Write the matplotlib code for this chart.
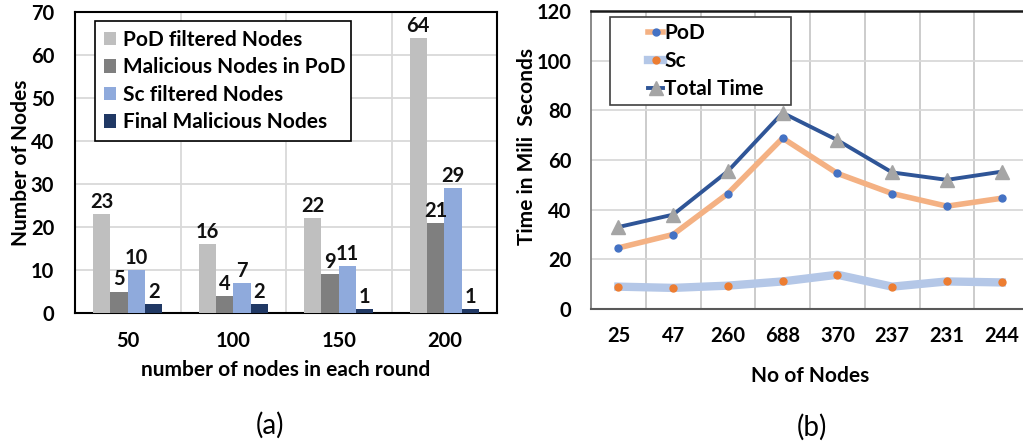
import matplotlib
matplotlib.use("Agg")
import matplotlib.pyplot as plt
from matplotlib.legend_handler import HandlerLine2D
import numpy as np

plt.rcParams['font.family'] = ['Lato', 'DejaVu Sans']

# ---- data (a) ----
rounds = ['50', '100', '150', '200']
pod_filtered = [23, 16, 22, 64]
malicious_pod = [5, 4, 9, 21]
sc_filtered = [10, 7, 11, 29]
final_malicious = [2, 2, 1, 1]
bar_labels = ['PoD filtered Nodes', 'Malicious Nodes in PoD', 'Sc filtered Nodes', 'Final Malicious Nodes']

# ---- data (b) ----
nodes = ['25', '47', '260', '688', '370', '237', '231', '244']
pod_time = [24.6, 30.0, 46.5, 68.8, 54.6, 46.5, 41.4, 44.6]
sc_time = [9.0, 8.5, 9.4, 11.1, 13.8, 9.0, 11.1, 10.7]
total_time = [33, 38, 55.5, 79, 68, 55, 52, 55.3]

W, H = 1023, 444
fig = plt.figure(figsize=(W / 100, H / 100), dpi=100)

def box(x0, y0, x1, y1):
    return [x0 / W, 1 - y1 / H, (x1 - x0) / W, (y1 - y0) / H]

TFS = 14.5   # tick labels
LFS = 15     # axis labels / legends
grid_c = '#D9D9D9'


class ShiftedLine(HandlerLine2D):
    def __init__(self, shift_px, **kw):
        super().__init__(**kw)
        self.shift = shift_px

    def create_artists(self, legend, orig_handle, xdescent, ydescent, width,
                       height, fontsize, trans):
        return super().create_artists(legend, orig_handle, xdescent - self.shift,
                                      ydescent, width - self.shift, height,
                                      fontsize, trans)


# ================= (a) =================
ax1 = fig.add_axes(box(75, 12, 497, 313))
colors = ['#BFBFBF', '#7F7F7F', '#8FAADC', '#203864']
series = [pod_filtered, malicious_pod, sc_filtered, final_malicious]
x = np.arange(len(rounds))
bw = 0.164
for i, (vals, c, lab) in enumerate(zip(series, colors, bar_labels)):
    bars = ax1.bar(x + (i - 1.5) * bw, vals, bw, color=c, label=lab, zorder=3)
    for b, v in zip(bars, vals):
        ax1.annotate(str(v), (b.get_x() + b.get_width() / 2, v), xytext=(0, 1.5),
                     textcoords='offset points', ha='center', va='bottom',
                     fontsize=TFS, fontweight='bold', color='#111111', zorder=5)
ax1.set_xlim(-0.5, 3.5)
ax1.set_ylim(0, 70)
ax1.set_yticks(range(0, 71, 10))
ax1.set_xticks(x)
ax1.set_xticklabels(rounds)
ax1.set_xticks(np.arange(0.5, 3.5, 1), minor=True)
ax1.grid(axis='y', which='major', color=grid_c, lw=1.3, zorder=0)
ax1.grid(axis='x', which='minor', color=grid_c, lw=1.3, zorder=0)
ax1.tick_params(axis='both', which='both', length=0)
ax1.tick_params(axis='y', pad=15, labelsize=TFS)
ax1.tick_params(axis='x', pad=13, labelsize=TFS)
for t in ax1.get_xticklabels() + ax1.get_yticklabels():
    t.set_fontweight('bold')
for s in ax1.spines.values():
    s.set_color('#000000')
    s.set_linewidth(1.5)
ax1.set_xlabel('number of nodes in each round', fontsize=LFS, fontweight='bold')
ax1.xaxis.set_label_coords(0.5, -0.155)
ax1.set_ylabel('Number of Nodes', fontsize=LFS, fontweight='bold')
ax1.yaxis.set_label_coords(-0.105, 0.5)
leg1 = ax1.legend(loc='upper left', bbox_to_anchor=(0.047, 0, 0.607, 0.97),
                  mode='expand', borderaxespad=0,
                  fancybox=False, edgecolor='#000000', framealpha=1,
                  prop={'size': LFS, 'weight': 'bold'}, handlelength=0.6,
                  handleheight=0.6, handletextpad=0.35, labelspacing=0.36,
                  borderpad=0.42)
leg1.get_frame().set_linewidth(1.2)
leg1.set_zorder(10)

# ================= (b) =================
ax2 = fig.add_axes(box(591, 11, 1029, 309))
xb = np.arange(len(nodes))
l_pod, = ax2.plot(xb, pod_time, color='#F4B183', lw=4, marker='o', ms=5,
                  mfc='#4472C4', mec='#4472C4', label='PoD', zorder=4)
l_sc, = ax2.plot(xb, sc_time, color='#B4C7E7', lw=6, marker='o', ms=5,
                 mfc='#ED7D31', mec='#ED7D31', label='Sc', zorder=3)
l_tot, = ax2.plot(xb, total_time, color='#2F5597', lw=2.8, marker='^', ms=10,
                  mfc='#A5A5A5', mec='#A5A5A5', label='Total Time', zorder=5)
ax2.set_xlim(-0.5, 7.5)
ax2.set_ylim(0, 120)
ax2.set_yticks(range(0, 121, 20))
ax2.set_xticks(xb)
ax2.set_xticklabels(nodes)
ax2.set_xticks(np.arange(0.5, 7.5, 1), minor=True)
ax2.grid(axis='y', which='major', color=grid_c, lw=1.3, zorder=0)
ax2.grid(axis='x', which='minor', color='#C8C8C8', lw=1.3, zorder=0)
ax2.tick_params(axis='both', which='both', length=0)
ax2.tick_params(axis='y', pad=14, labelsize=TFS)
ax2.tick_params(axis='x', pad=12, labelsize=TFS)
for t in ax2.get_xticklabels() + ax2.get_yticklabels():
    t.set_fontweight('bold')
ax2.spines['top'].set_color('#1a1a1a')
ax2.spines['top'].set_linewidth(1.8)
ax2.spines['left'].set_color('#808080')
ax2.spines['left'].set_linewidth(1.3)
ax2.spines['bottom'].set_color('#595959')
ax2.spines['bottom'].set_linewidth(1.5)
ax2.spines['right'].set_visible(False)
ax2.set_xlabel('No of Nodes', fontsize=LFS, fontweight='bold')
ax2.xaxis.set_label_coords(0.5, -0.19)
ax2.set_ylabel('Time in Mili  Seconds', fontsize=LFS, fontweight='bold')
ax2.yaxis.set_label_coords(-0.124, 0.544)
shift = ShiftedLine(23)
leg2 = ax2.legend(loc='upper left', bbox_to_anchor=(0.043, 0, 0.413, 0.98),
                  mode='expand', borderaxespad=0,
                  fancybox=False, edgecolor='#404040', framealpha=1,
                  prop={'size': LFS, 'weight': 'bold'}, handlelength=2.26,
                  handletextpad=0.05, labelspacing=0.38, borderpad=0.3,
                  handler_map={l_pod: shift, l_sc: shift, l_tot: shift})
leg2.get_frame().set_linewidth(1.2)
leg2.set_zorder(10)

fig.text(270 / W, 1 - 425 / H, '(a)', fontsize=20, ha='center', va='center')
fig.text(812 / W, 1 - 427 / H, '(b)', fontsize=20, ha='center', va='center')

fig.savefig('out.png', dpi=100)
